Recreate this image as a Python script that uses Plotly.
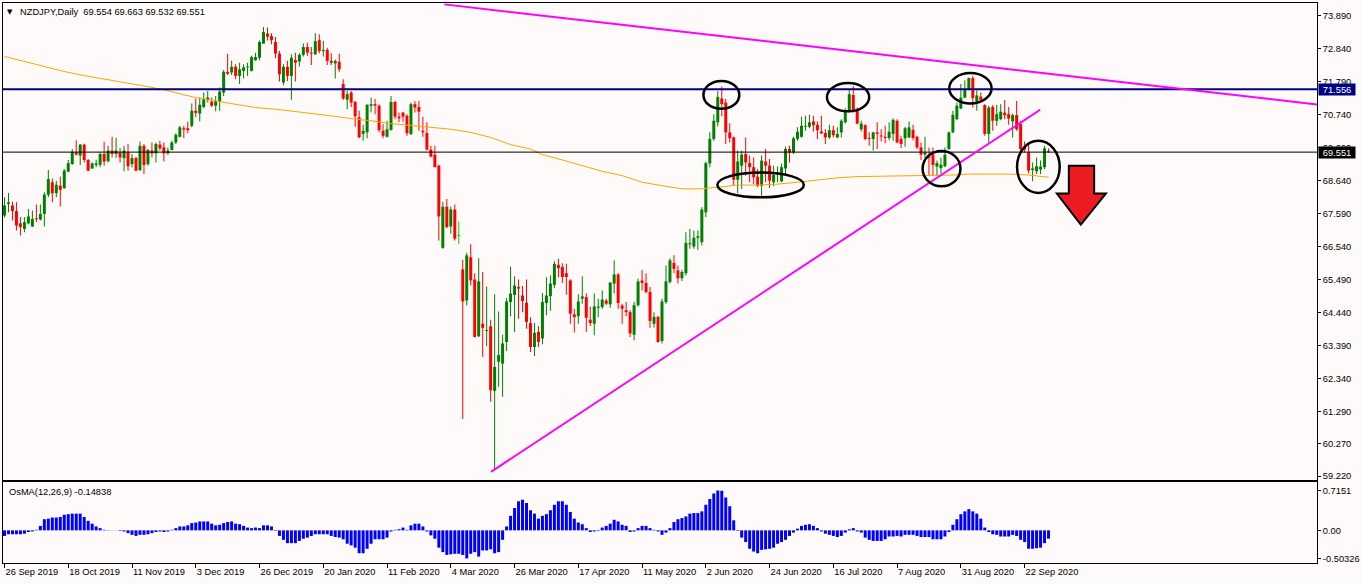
import plotly.graph_objects as go

# ---------------- data ----------------
open_ = [
    67.53, 67.90, 67.85, 67.67, 67.28, 67.10, 67.28, 67.18, 67.44, 67.40, 67.58, 68.19, 68.59, 68.24, 68.48,
    68.40, 68.93, 69.17, 69.54, 69.44, 69.79, 69.30, 69.03, 69.14, 69.15, 69.49, 69.26, 69.60, 69.49, 69.54,
    69.36, 69.54, 69.17, 69.36, 68.98, 69.75, 69.17, 69.60, 69.51, 69.79, 69.70, 69.51, 69.62, 69.86, 70.04,
    70.31, 70.31, 70.39, 70.87, 70.78, 70.99, 71.21, 71.16, 71.03, 71.15, 71.45, 72.11, 72.09, 72.27, 71.98,
    72.14, 72.25, 72.14, 72.48, 72.56, 73.01, 73.33, 73.25, 73.06, 72.69, 71.77, 72.27, 71.98, 72.49, 72.44,
    72.65, 72.90, 72.72, 72.67, 73.12, 72.77, 72.81, 72.46, 72.38, 72.43, 71.72, 71.22, 71.45,
    71.15, 70.66, 70.13, 70.18, 71.03, 71.08, 71.03, 70.23, 70.04, 70.26, 71.15, 70.68, 70.81, 70.71, 70.13,
    71.08, 70.99, 70.23, 70.16, 69.63, 69.47, 69.12, 66.50, 67.81, 67.18, 67.72, 66.88, 65.81, 64.82, 66.20,
    65.49, 63.68, 64.08, 63.85, 64.00, 61.94, 62.87, 62.81, 63.50, 64.77, 65.00, 65.25, 64.98, 64.75,
    64.10, 63.34, 63.82, 63.61, 64.74, 64.96, 65.32, 65.96, 65.89, 65.69, 65.46, 64.38, 64.32, 64.88, 64.93,
    64.21, 64.08, 64.59, 64.61, 64.82, 64.70, 65.36, 65.65, 64.66, 64.51, 64.45, 63.73, 64.67, 65.46, 65.38,
    65.09, 64.08, 64.30, 63.53, 64.77, 65.41, 66.02, 65.78, 65.53, 65.69, 66.61, 66.54, 66.82, 66.68,
    67.63, 69.19, 69.97, 70.50, 71.26, 71.13, 70.18, 70.02, 68.67, 69.12, 69.49, 69.20, 69.07, 68.77, 68.48,
    69.25, 69.12, 68.59, 68.85, 68.62, 69.03, 69.65, 69.54, 69.97, 70.04, 70.36, 70.36, 70.53, 70.42, 70.21,
    70.16, 70.02, 70.25, 70.02, 70.18, 70.50, 70.85, 71.37, 70.87, 70.28, 70.41, 69.99, 69.97, 70.18,
    70.07, 70.04, 70.00, 70.13, 70.55, 69.97, 69.99, 70.02, 70.26, 70.04, 69.70, 69.47, 69.38, 69.47, 69.09,
    69.04, 69.10, 69.65, 70.18, 70.60, 70.94, 71.29, 71.56, 71.91, 71.16, 71.32, 71.05, 70.13, 70.99, 70.55,
    70.60, 70.81, 70.76, 70.53, 70.73, 70.44, 69.73, 69.54, 68.98, 68.94, 69.00, 69.07, 69.554,
]
high = [
    68.11, 68.25, 67.97, 67.95, 67.48, 67.48, 67.74, 67.69, 67.88, 67.88, 68.27, 68.98, 68.71, 68.64, 68.77,
    69.01, 69.30, 69.65, 69.93, 69.81, 69.82, 69.33, 69.22, 69.31, 69.54, 69.88, 69.75, 70.04, 70.00, 69.68,
    69.75, 69.81, 69.49, 69.40, 69.89, 69.81, 69.65, 69.86, 69.86, 69.91, 69.86, 69.70, 69.91, 70.15, 70.39,
    70.39, 70.52, 71.10, 71.26, 71.29, 71.45, 71.50, 71.29, 71.34, 71.61, 72.17, 72.69, 72.46, 72.35, 72.40,
    72.35, 72.40, 72.62, 72.72, 73.11, 73.54, 73.52, 73.34, 73.22, 72.77, 72.35, 72.46, 72.67, 72.72, 72.70,
    73.01, 73.04, 72.90, 73.34, 73.31, 73.09, 72.88, 72.70, 72.50, 72.69, 71.87, 71.50, 71.50,
    71.18, 70.87, 70.42, 71.08, 71.29, 71.24, 71.08, 70.44, 70.55, 71.34, 71.18, 70.81, 70.84, 70.76, 71.13,
    71.18, 71.18, 70.68, 70.50, 69.75, 69.75, 69.15, 67.97, 68.06, 67.82, 67.88, 67.34, 66.12, 66.34, 66.61,
    65.69, 66.17, 65.73, 65.27, 64.21, 65.02, 64.47, 63.73, 64.90, 65.90, 65.59, 65.49, 65.28, 65.49,
    64.29, 64.10, 64.00, 65.06, 65.56, 65.62, 66.07, 66.15, 66.01, 65.99, 65.50, 64.56, 65.02, 65.59, 65.04,
    64.63, 65.04, 64.88, 65.14, 64.88, 65.41, 66.10, 65.69, 64.72, 64.77, 64.51, 64.77, 65.52, 65.80, 65.69,
    65.25, 64.45, 64.32, 64.88, 65.94, 66.17, 66.26, 65.94, 65.80, 67.00, 67.10, 67.05, 67.05, 67.79,
    69.25, 70.18, 70.76, 71.50, 71.64, 71.24, 70.47, 70.05, 69.60, 69.60, 70.02, 69.44, 69.38, 69.01, 69.44,
    69.65, 69.33, 69.12, 69.09, 69.19, 69.73, 69.75, 70.04, 70.34, 70.68, 70.71, 70.74, 70.71, 70.53, 70.71,
    70.28, 70.42, 70.39, 70.34, 70.60, 70.95, 71.56, 71.66, 70.97, 70.55, 70.44, 70.18, 70.20, 70.50,
    70.28, 70.39, 70.50, 70.63, 70.60, 70.07, 70.36, 70.53, 70.42, 70.07, 69.86, 70.04, 69.70, 69.70, 69.28,
    69.38, 69.70, 70.21, 70.87, 71.13, 71.72, 71.84, 71.93, 71.98, 71.52, 71.45, 71.08, 71.03, 71.05, 71.05,
    71.08, 71.21, 70.99, 70.78, 71.18, 70.55, 69.89, 69.81, 69.22, 69.38, 69.28, 69.75, 69.663,
]
low = [
    67.47, 67.63, 67.37, 67.05, 66.89, 67.00, 67.24, 67.16, 67.32, 67.37, 67.18, 68.11, 67.95, 68.11, 67.82,
    68.38, 68.91, 69.15, 69.44, 69.14, 69.22, 68.94, 69.01, 69.07, 69.07, 69.12, 69.22, 69.38, 69.36, 69.22,
    68.94, 68.96, 69.07, 68.94, 68.94, 68.85, 69.12, 69.38, 69.22, 69.60, 69.25, 69.47, 69.60, 69.81, 70.02,
    70.00, 70.15, 70.34, 70.66, 70.53, 70.95, 71.13, 70.99, 70.85, 70.87, 71.34, 72.01, 72.01, 71.87, 71.72,
    71.90, 71.98, 72.12, 72.46, 72.48, 73.01, 73.11, 72.99, 72.54, 71.80, 71.68, 71.82, 71.22, 71.80, 72.28,
    72.60, 72.62, 72.33, 72.65, 72.70, 72.60, 72.33, 72.33, 71.90, 72.11, 71.21, 70.92, 70.99,
    70.36, 69.99, 69.91, 69.99, 70.81, 70.76, 70.18, 69.99, 70.02, 70.23, 70.60, 70.50, 70.52, 70.07, 70.10,
    70.81, 70.23, 70.04, 69.60, 69.38, 69.07, 66.73, 66.47, 67.12, 66.95, 66.73, 66.61, 61.04, 64.66, 65.30,
    63.64, 63.66, 63.02, 63.36, 61.59, 59.42, 62.07, 61.75, 63.21, 64.32, 63.82, 64.24, 64.45, 63.92,
    63.18, 63.05, 63.34, 63.43, 64.35, 64.49, 65.21, 65.55, 65.38, 65.00, 64.08, 63.80, 64.08, 64.72, 63.82,
    64.01, 63.71, 64.29, 64.56, 64.67, 64.59, 65.04, 64.56, 64.08, 64.32, 63.66, 63.55, 64.63, 65.14, 65.04,
    63.95, 63.96, 63.47, 63.45, 64.72, 65.36, 65.69, 65.36, 65.44, 65.62, 66.47, 66.47, 66.44, 66.57,
    67.48, 69.07, 69.91, 70.37, 70.69, 69.81, 69.86, 68.48, 68.24, 68.38, 68.80, 68.59, 68.53, 68.43, 68.09,
    68.59, 68.41, 68.46, 68.59, 68.59, 68.83, 69.22, 69.49, 69.91, 70.02, 70.23, 70.31, 70.21, 69.97, 70.13,
    69.81, 69.97, 70.02, 69.99, 70.02, 70.46, 70.81, 70.81, 70.44, 70.21, 69.93, 69.75, 69.60, 69.65,
    69.89, 69.83, 69.93, 69.91, 69.83, 69.68, 69.72, 70.00, 69.93, 69.65, 69.30, 69.26, 68.80, 68.80, 68.78,
    68.87, 69.07, 69.62, 70.15, 70.57, 70.92, 71.27, 71.52, 70.97, 70.87, 71.18, 70.07, 69.83, 70.23, 70.39,
    70.57, 70.60, 70.42, 70.02, 70.23, 69.54, 69.53, 68.87, 68.62, 68.85, 68.85, 69.01, 69.532,
]
close = [
    67.85, 67.95, 67.67, 67.21, 67.16, 67.32, 67.50, 67.42, 67.41, 67.58, 68.20, 68.69, 68.24, 68.51, 68.35,
    68.96, 69.20, 69.56, 69.47, 69.79, 69.30, 68.96, 69.19, 69.19, 69.49, 69.25, 69.60, 69.49, 69.60, 69.38,
    69.60, 69.10, 69.36, 68.96, 69.75, 69.14, 69.62, 69.51, 69.81, 69.67, 69.51, 69.60, 69.86, 70.10, 70.34,
    70.27, 70.25, 70.87, 70.80, 71.06, 71.24, 71.29, 71.03, 71.18, 71.48, 72.11, 72.05, 72.27, 71.98, 72.19,
    72.25, 72.28, 72.58, 72.58, 73.06, 73.38, 73.23, 73.12, 72.69, 72.03, 72.27, 71.98, 72.56, 72.40, 72.65,
    72.90, 72.72, 72.69, 73.09, 72.77, 72.81, 72.46, 72.40, 72.46, 72.19, 71.26, 71.40, 71.13,
    70.69, 70.02, 70.23, 71.06, 71.08, 71.03, 70.25, 70.07, 70.28, 71.15, 70.68, 70.63, 70.68, 70.15, 71.08,
    70.97, 70.84, 70.18, 69.63, 69.41, 69.07, 67.50, 67.81, 67.16, 67.72, 66.79, 66.88, 64.79, 66.26, 65.46,
    63.66, 65.43, 63.95, 63.87, 61.96, 62.70, 63.08, 63.45, 64.79, 65.04, 65.30, 65.20, 64.80, 64.14,
    63.34, 63.79, 63.50, 64.77, 64.98, 65.36, 65.99, 65.85, 65.57, 65.57, 64.40, 64.29, 64.79, 64.95, 64.27,
    64.10, 64.63, 64.63, 64.85, 64.72, 65.39, 65.65, 64.74, 64.56, 64.45, 63.77, 64.67, 65.43, 65.38, 65.09,
    64.17, 64.30, 63.50, 64.79, 65.43, 66.10, 65.83, 65.53, 65.73, 66.66, 66.65, 66.82, 66.87, 67.72,
    69.20, 69.97, 70.55, 71.31, 71.08, 70.18, 69.99, 68.67, 69.25, 69.47, 69.22, 69.07, 68.75, 68.48, 69.28,
    69.12, 68.64, 68.82, 68.91, 69.07, 69.65, 69.54, 69.99, 70.20, 70.39, 70.39, 70.50, 70.41, 70.25, 70.15,
    70.02, 70.25, 70.09, 70.13, 70.55, 70.87, 71.40, 70.87, 70.46, 70.46, 69.97, 69.97, 70.18, 70.13,
    70.05, 70.00, 70.20, 70.58, 69.86, 69.81, 70.31, 70.34, 70.00, 69.70, 69.47, 69.54, 69.36, 69.14, 69.20,
    69.15, 69.47, 70.18, 70.74, 71.03, 71.29, 71.56, 71.91, 71.27, 71.36, 71.22, 70.13, 70.97, 70.55, 70.76,
    70.84, 70.73, 70.62, 70.73, 70.28, 69.65, 69.64, 68.96, 69.03, 69.10, 69.09, 69.67, 69.551,
]

osma = [
    -0.10, -0.07, -0.07, -0.07, -0.07, -0.06, -0.03, -0.02, 0.01, 0.08,
    0.20, 0.21, 0.23, 0.23, 0.24, 0.28, 0.29, 0.30, 0.30, 0.30,
    0.24, 0.17, 0.12, 0.07, 0.04, 0.01, 0.005, 0.003, 0.002, -0.01,
    -0.02, -0.05, -0.08, -0.10, -0.08, -0.08, -0.07, -0.05, -0.03, -0.02,
    -0.03, -0.02, 0.01, 0.04, 0.07, 0.07, 0.09, 0.13, 0.14, 0.16,
    0.16, 0.16, 0.12, 0.09, 0.10, 0.13, 0.15, 0.16, 0.12, 0.11,
    0.08, 0.05, 0.04, 0.05, 0.04, 0.09, 0.09, 0.07, -0.01, -0.10,
    -0.17, -0.23, -0.23, -0.23, -0.19, -0.15, -0.13, -0.10, -0.07, -0.07,
    -0.07, -0.07, -0.10, -0.12, -0.13, -0.16, -0.24, -0.27, -0.31, -0.41,
    -0.41, -0.33, -0.24, -0.16, -0.16, -0.16, -0.13, -0.02, 0.01, 0.02,
    0.05, 0.01, 0.09, 0.12, 0.12, 0.07, -0.02, -0.09, -0.15, -0.31,
    -0.39, -0.44, -0.43, -0.42, -0.42, -0.44, -0.50326, -0.42, -0.39, -0.47,
    -0.36, -0.36, -0.34, -0.41, -0.39, -0.17, 0.07, 0.26, 0.40, 0.52,
    0.55, 0.49, 0.36, 0.30, 0.21, 0.26, 0.29, 0.36, 0.46, 0.52,
    0.52, 0.46, 0.33, 0.21, 0.14, 0.11, 0.04, -0.03, -0.02, -0.01,
    0.05, 0.08, 0.12, 0.19, 0.16, 0.10, 0.08, -0.03, -0.02, 0.04,
    0.08, 0.08, 0.04, 0.01, -0.02, -0.08, -0.04, 0.04, 0.15, 0.20,
    0.22, 0.25, 0.30, 0.31, 0.31, 0.34, 0.46, 0.56, 0.66, 0.7151,
    0.71, 0.59, 0.43, 0.18, -0.01, -0.13, -0.21, -0.33, -0.38, -0.41,
    -0.35, -0.34, -0.33, -0.31, -0.24, -0.21, -0.17, -0.10, -0.04, 0.03,
    0.08, 0.10, 0.11, 0.08, 0.04, -0.02, -0.06, -0.08, -0.10, -0.12,
    -0.10, -0.04, 0.02, 0.04, -0.02, -0.04, -0.13, -0.17, -0.19, -0.19,
    -0.19, -0.16, -0.11, -0.11, -0.10, -0.11, -0.08, -0.08, -0.08, -0.10,
    -0.12, -0.12, -0.12, -0.16, -0.16, -0.16, -0.11, -0.03, 0.10, 0.20,
    0.29, 0.34, 0.38, 0.34, 0.30, 0.21, 0.05, -0.03, -0.07, -0.08,
    -0.11, -0.11, -0.11, -0.08, -0.10, -0.17, -0.21, -0.33, -0.33, -0.32,
    -0.31, -0.23, -0.14838,
]

ma_bar = [0, 5, 10, 15, 20, 25, 30, 35, 40, 45, 48, 53, 58, 63, 68, 73, 78, 83, 88, 92, 97, 102, 107,
          112, 117, 122, 127, 132, 135, 140, 145, 150, 155, 160, 165, 170, 175, 179, 184, 189, 194, 199,
          204, 209, 214, 219, 228, 233, 238, 242, 252, 257, 262]
ma_value = [72.60, 72.44, 72.28, 72.12, 71.99, 71.89, 71.77, 71.66, 71.54, 71.38, 71.29, 71.18, 71.08,
            70.97, 70.92, 70.85, 70.78, 70.69, 70.60, 70.55, 70.46, 70.41, 70.34, 70.28, 70.18, 70.02,
            69.79, 69.65, 69.47, 69.30, 69.12, 68.94, 68.80, 68.59, 68.48, 68.38, 68.38, 68.43, 68.50,
            68.50, 68.53, 68.59, 68.66, 68.73, 68.77, 68.78, 68.78, 68.80, 68.82, 68.85, 68.85, 68.82, 68.75]

date_bars = [0, 16, 32, 48, 64, 80, 96, 112, 128, 144, 160, 176, 192, 208, 224, 240, 256]
date_labels = ["26 Sep 2019", "18 Oct 2019", "11 Nov 2019", "3 Dec 2019", "26 Dec 2019", "20 Jan 2020",
               "11 Feb 2020", "4 Mar 2020", "26 Mar 2020", "17 Apr 2020", "11 May 2020", "2 Jun 2020",
               "24 Jun 2020", "16 Jul 2020", "7 Aug 2020", "31 Aug 2020", "22 Sep 2020"]
price_ticks = [73.89, 72.84, 71.79, 70.74, 69.69, 68.64, 67.59, 66.54, 65.49, 64.44, 63.39, 62.34,
               61.29, 60.27, 59.22]
osma_ticks = [0.7151, 0.0, -0.50326]
osma_tick_text = ["0.7151", "0.00", "-0.50326"]

resistance_level = 71.556
last_close = 69.551

upper_trend_bars = [110.4, 329.4]
upper_trend_prices = [74.26, 71.07]
lower_trend_bars = [122.1, 259.9]
lower_trend_prices = [59.36, 70.90]

ellipse_bars = [(175.4, 184.4), (178.9, 200.6), (206.4, 217.0), (237.1, 247.7), (230.4, 239.9), (254.1, 264.8)]
ellipse_prices = [(70.93, 71.82), (68.11, 68.90), (70.85, 71.75), (71.10, 72.07), (68.46, 69.59), (68.25, 69.91)]

arrow_bars = [267.1, 273.45, 273.45, 276.4, 270.1, 264.1, 267.1]
arrow_prices = [69.12, 69.12, 68.23, 68.23, 67.24, 68.23, 68.23]

# ---------------- styling ----------------
BG = "#FDFAF9"
BULL = "#008000"
BEAR = "#FF0000"
DOJI = "#00D000"
FONT = "Liberation Sans"
FS = 9.3

n = len(close)
idx = list(range(n))
colors = [BULL if c > o else (BEAR if c < o else DOJI) for o, c in zip(open_, close)]
wick_h = [h - l for h, l in zip(high, low)]
body_base = [min(o, c) for o, c in zip(open_, close)]
body_h = [max(abs(c - o), 0.03) for o, c in zip(open_, close)]

XR = [-0.375, 329.375]

fig = go.Figure()
fig.add_trace(go.Bar(x=idx, y=wick_h, base=low, width=0.25, marker=dict(color=colors, line=dict(width=0)),
                     hoverinfo="skip", xaxis="x", yaxis="y"))
fig.add_trace(go.Bar(x=idx, y=body_h, base=body_base, width=0.75, marker=dict(color=colors, line=dict(width=0)),
                     hoverinfo="skip", xaxis="x", yaxis="y"))
fig.add_trace(go.Scatter(x=ma_bar, y=ma_value, mode="lines", line=dict(color="#FFA500", width=1),
                         hoverinfo="skip", xaxis="x", yaxis="y"))
fig.add_trace(go.Bar(x=idx, y=osma, width=0.75, marker=dict(color="#0000FF", line=dict(width=0)),
                     hoverinfo="skip", xaxis="x2", yaxis="y2"))

shapes = []
shapes.append(dict(type="line", xref="paper", yref="y", x0=0, x1=1, y0=resistance_level, y1=resistance_level,
                   line=dict(color="#000080", width=2), layer="above"))
shapes.append(dict(type="line", xref="paper", yref="y", x0=0, x1=1, y0=last_close, y1=last_close,
                   line=dict(color="#000000", width=1), layer="above"))
shapes.append(dict(type="line", xref="x", yref="y", x0=upper_trend_bars[0], x1=upper_trend_bars[1],
                   y0=upper_trend_prices[0], y1=upper_trend_prices[1], line=dict(color="#FF00FF", width=2)))
shapes.append(dict(type="line", xref="x", yref="y", x0=lower_trend_bars[0], x1=lower_trend_bars[1],
                   y0=lower_trend_prices[0], y1=lower_trend_prices[1], line=dict(color="#FF00FF", width=2)))
for (bx0, bx1), (py0, py1) in zip(ellipse_bars, ellipse_prices):
    shapes.append(dict(type="circle", xref="x", yref="y", x0=bx0, x1=bx1, y0=py0, y1=py1,
                       line=dict(color="#000000", width=2.5)))
path = "M " + " L ".join(f"{bx},{py}" for bx, py in zip(arrow_bars, arrow_prices)) + " Z"
shapes.append(dict(type="path", xref="x", yref="y", path=path, fillcolor="#ED1C24",
                   line=dict(color="#000000", width=2)))

axis_common = dict(showgrid=False, zeroline=False, showline=True, mirror=True, linecolor="#000000",
                   linewidth=1)

fig.update_layout(
    width=1362, height=584,
    margin=dict(l=2, r=41, t=2, b=21),
    paper_bgcolor=BG, plot_bgcolor=BG,
    showlegend=False, barmode="overlay",
    font=dict(family=FONT, size=FS, color="#000000"),
    xaxis=dict(domain=[0, 1], range=XR, anchor="y", showticklabels=False, ticks="", **axis_common),
    yaxis=dict(domain=[0.148, 1], range=[59.095, 74.304], side="right", anchor="x",
               tickvals=price_ticks, ticktext=[f"{v:.3f}" for v in price_ticks],
               ticks="outside", ticklen=3, tickcolor="#000000",
               tickfont=dict(family=FONT, size=FS, color="#000000"), **axis_common),
    xaxis2=dict(domain=[0, 1], range=XR, anchor="y2", tickvals=date_bars, ticktext=date_labels,
                ticks="outside", ticklen=4, tickcolor="#000000", ticklabelposition="outside right",
                tickfont=dict(family=FONT, size=FS, color="#000000"), **axis_common),
    yaxis2=dict(domain=[0, 0.1444], range=[-0.585, 0.864], side="right", anchor="x2",
                tickvals=osma_ticks, ticktext=osma_tick_text,
                ticks="outside", ticklen=3, tickcolor="#000000",
                tickfont=dict(family=FONT, size=FS, color="#000000"), **axis_common),
    shapes=shapes,
)

def px_x(p):
    return (p - 2) / 1319.0

def px_y(p):
    return (563 - p) / 561.0

annotations = [
    dict(text="▼", x=px_x(9.5), y=px_y(11), xref="paper", yref="paper", xanchor="center", yanchor="middle",
         showarrow=False, font=dict(family="DejaVu Sans", size=7, color="#000000")),
    dict(text="NZDJPY,Daily  69.554 69.663 69.532 69.551", x=px_x(17), y=px_y(11), xref="paper",
         yref="paper", xanchor="left", yanchor="middle", showarrow=False,
         font=dict(family=FONT, size=FS, color="#000000")),
    dict(text="OsMA(12,26,9) -0.14838", x=px_x(6), y=px_y(492), xref="paper", yref="paper",
         xanchor="left", yanchor="middle", showarrow=False, font=dict(family=FONT, size=FS, color="#000000")),
    dict(text=f"{resistance_level:.3f}", x=1, xshift=1, y=resistance_level, xref="paper", yref="y",
         xanchor="left", yanchor="middle", showarrow=False, bgcolor="#000080", width=36, height=11,
         borderpad=0, font=dict(family=FONT, size=FS, color="#FFFFFF")),
    dict(text=f"{last_close:.3f}", x=1, xshift=1, y=last_close, xref="paper", yref="y",
         xanchor="left", yanchor="middle", showarrow=False, bgcolor="#000000", width=36, height=11,
         borderpad=0, font=dict(family=FONT, size=FS, color="#FFFFFF")),
]
fig.update_layout(annotations=annotations)

fig.write_html(
    "out.html",
    config={"displayModeBar": False, "staticPlot": True},
    post_script="document.body.style.margin='0';document.body.style.padding='0';"
                "document.body.style.overflow='hidden';document.body.style.background='" + BG + "';",
)
